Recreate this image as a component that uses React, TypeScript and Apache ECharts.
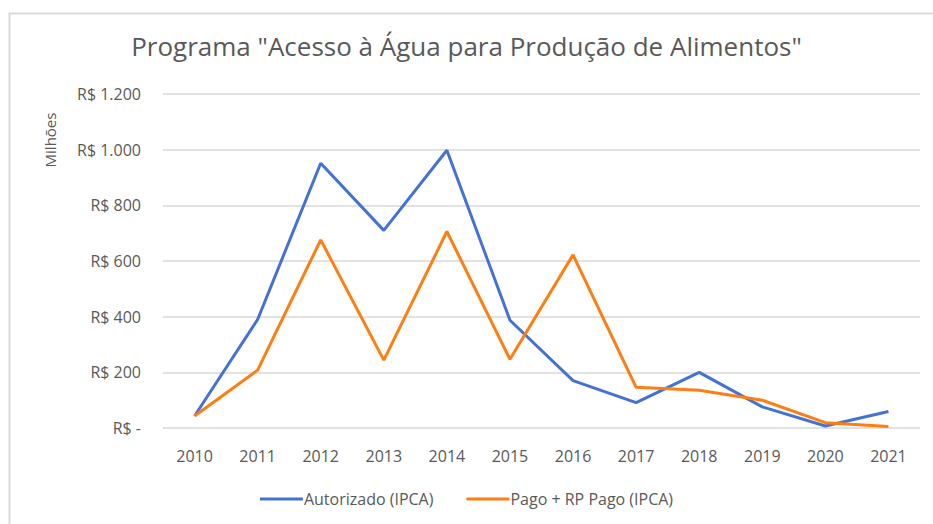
import React, { useEffect, useRef } from "react";
import * as echarts from "echarts";

const years = ["2010", "2011", "2012", "2013", "2014", "2015", "2016", "2017", "2018", "2019", "2020", "2021"];
const autorizado = [43, 390, 951, 710, 998, 387, 170, 91, 200, 76, 7, 59];
const pago = [43, 208, 676, 244, 706, 247, 622, 146, 136, 100, 19, 5];
const titleText = 'Programa "Acesso à Água para Produção de Alimentos"';
const seriesNames = ["Autorizado (IPCA)", "Pago + RP Pago (IPCA)"];
const axisName = "Milhões";

const fmt = (v: number) => {
  if (v === 0) return "R$ -";
  return "R$ " + v.toLocaleString("de-DE");
};

export default function App() {
  const ref = useRef<HTMLDivElement>(null);
  useEffect(() => {
    if (!ref.current) return;
    const chart = echarts.init(ref.current, null, { renderer: "svg" });
    const font = "'Open Sans', sans-serif";
    chart.setOption({
      animation: false,
      backgroundColor: "#ffffff",
      textStyle: { fontFamily: font },
      title: {
        text: titleText,
        left: "center",
        top: 28,
        textStyle: { fontFamily: font, fontSize: 26, fontWeight: "normal", color: "#595959" },
      },
      graphic: [
        {
          type: "rect",
          shape: { x: 9.5, y: 13.5, width: 1000, height: 1000 },
          style: { fill: "none", stroke: "#d9d9d9", lineWidth: 2 },
          silent: true,
        },
        {
          type: "text",
          x: 50,
          y: 140,
          rotation: Math.PI / 2,
          style: {
            text: axisName,
            fill: "#595959",
            fontSize: 15,
            fontFamily: font,
            align: "center",
            verticalAlign: "middle",
          },
          silent: true,
        },
      ],
      grid: { left: 163, right: 13, top: 94, bottom: 96, containLabel: false },
      legend: {
        bottom: 12,
        left: "center",
        itemWidth: 43,
        itemHeight: 3,
        itemGap: 33,
        icon: "rect",
        textStyle: { fontFamily: font, fontSize: 16, color: "#595959", padding: [0, 0, 0, -4] },
        data: seriesNames,
      },
      xAxis: {
        type: "category",
        data: years,
        boundaryGap: true,
        axisLine: { show: false },
        axisTick: { show: false },
        axisLabel: { color: "#595959", fontSize: 16, margin: 20, fontFamily: font },
      },
      yAxis: {
        type: "value",
        min: 0,
        max: 1200,
        interval: 200,
        axisLine: { show: false },
        axisTick: { show: false },
        splitLine: { lineStyle: { color: "#d9d9d9", width: 1.5 } },
        axisLabel: { color: "#595959", fontSize: 16, margin: 22, fontFamily: font, formatter: fmt },
      },
      series: [
        {
          name: seriesNames[0],
          type: "line",
          data: autorizado,
          symbol: "none",
          lineStyle: { color: "#4472d4", width: 3 },
          itemStyle: { color: "#4472d4" },
        },
        {
          name: seriesNames[1],
          type: "line",
          data: pago,
          symbol: "none",
          lineStyle: { color: "#fd7e12", width: 3 },
          itemStyle: { color: "#fd7e12" },
        },
      ],
    });
    return () => chart.dispose();
  }, []);
  return <div ref={ref} style={{ position: "fixed", left: 0, top: 0, width: 933, height: 524 }} />;
}
